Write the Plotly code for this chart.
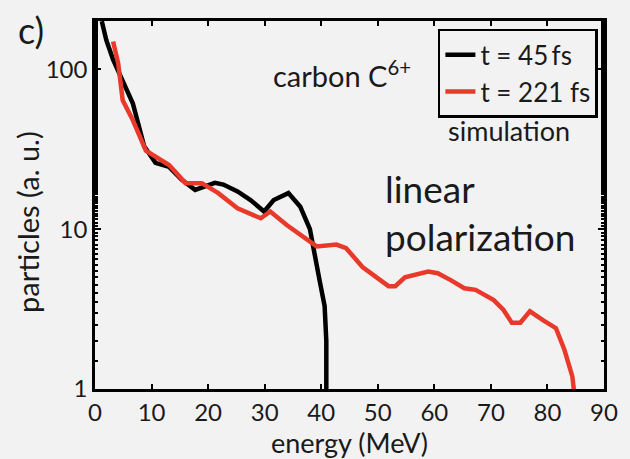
import plotly.graph_objects as go

# t = 45 fs (black)
e45 = [1.2, 2.0, 3.2, 4.9, 6.7, 8.7, 10.7, 13.1, 15.3, 17.7, 19.4, 21.2, 22.7, 25.2, 27.5, 29.9,
       31.6, 34.2, 36.3, 38.0, 39.7, 40.6, 40.9, 40.9]
n45 = [200, 152, 115, 86, 61, 33, 26, 24.5, 20.4, 17.6, 18.5, 19.5, 19.0, 17.2, 15.2, 12.9,
       15.2, 16.8, 13.8, 10.0, 4.8, 3.3, 2.0, 0.97]

# t = 221 fs (red)
e221 = [3.2, 4.1, 4.9, 6.7, 9.0, 11.3, 13.1, 16.0, 18.9, 21.8, 25.2, 29.3, 31.0, 33.9, 35.7,
        39.2, 42.7, 44.4, 47.3, 49.6, 51.9, 53.1, 54.8, 58.9, 60.6, 62.9, 65.3, 67.3, 70.5,
        72.2, 73.7, 75.2, 76.9, 79.2, 81.5, 83.0, 84.4, 84.7]
n221 = [149, 109, 64, 48, 31, 27.7, 25.2, 19.4, 19.4, 16.8, 13.5, 11.7, 12.9, 10.6, 9.5,
        7.8, 8.0, 7.6, 5.8, 5.0, 4.4, 4.4, 5.0, 5.43, 5.3, 4.8, 4.27, 4.17, 3.6,
        3.13, 2.6, 2.6, 3.06, 2.7, 2.4, 1.76, 1.2, 0.97]

xticks = [0, 10, 20, 30, 40, 50, 60, 70, 80, 90]
yticks = [1, 10, 100]
ylabels = ["1", "10", "100"]

FONT = "Lato"
BG = "#f2f2f2"
RED = "#e8392b"
TXT = "#1a1a1a"

fig = go.Figure()
fig.add_trace(go.Scatter(x=e45, y=n45, mode="lines", name="t = 45\u2009fs",
                         line=dict(color="black", width=4.5)))
fig.add_trace(go.Scatter(x=e221, y=n221, mode="lines", name="t = 221 fs",
                         line=dict(color=RED, width=4.5)))

fig.update_layout(
    width=630, height=459,
    margin=dict(l=95, r=18, t=21, b=70),
    paper_bgcolor=BG, plot_bgcolor=BG,
    font=dict(family=FONT, color=TXT, size=22),
    showlegend=True,
    legend=dict(x=0.988, y=0.979, xanchor="right", yanchor="top",
                bgcolor=BG, bordercolor="black", borderwidth=2.5,
                font=dict(size=26, family=FONT, color=TXT),
                itemwidth=30, tracegroupgap=0),
)

fig.update_xaxes(
    range=[0, 90], tickvals=xticks, ticktext=[str(v) for v in xticks],
    ticks="inside", ticklen=5, tickwidth=2, tickcolor="black",
    showline=True, linecolor="black", linewidth=2.5, mirror="ticks",
    showgrid=False, zeroline=False,
    tickfont=dict(size=24, family=FONT, color=TXT),
    title=dict(text="energy (MeV)", font=dict(size=27, family=FONT, color=TXT), standoff=3),
)
fig.update_yaxes(
    type="log", range=[0, 2.302], tickvals=yticks, ticktext=ylabels,
    ticks="inside", ticklen=6, tickwidth=2, tickcolor="black",
    minor=dict(ticks="inside", ticklen=3, tickwidth=1.5, tickcolor="black", showgrid=False),
    showline=True, linecolor="black", linewidth=2.5, mirror="ticks",
    showgrid=False, zeroline=False,
    tickfont=dict(size=24, family=FONT, color=TXT),
)

fig.add_annotation(text="particles (a. u.)", xref="paper", yref="paper",
                   x=(27 - 95) / 517, y=(389.3 - 222) / 368.6, xanchor="center", yanchor="middle",
                   textangle=-90, showarrow=False,
                   font=dict(size=29, family=FONT, color=TXT))
fig.add_annotation(text="c)", xref="paper", yref="paper", x=(15 - 95) / 517, y=(389.3 - 6) / 368.6,
                   xanchor="left", yanchor="top", showarrow=False,
                   font=dict(size=36, family=FONT, color=TXT))
fig.add_annotation(text="carbon C<sup>6+</sup>", xref="paper", yref="paper",
                   x=(346 - 95) / 517, y=(389.3 - 74) / 368.6, xanchor="center", yanchor="middle",
                   showarrow=False, font=dict(size=29, family=FONT, color=TXT))
fig.add_annotation(text="simulation", xref="paper", yref="paper",
                   x=(516 - 95) / 517, y=(389.3 - 130) / 368.6, xanchor="center", yanchor="middle",
                   showarrow=False, font=dict(size=27, family=FONT, color=TXT))
fig.add_annotation(text="linear<br>polarization", xref="paper", yref="paper",
                   x=(388 - 95) / 517, y=(389.3 - 213) / 368.6, xanchor="left", yanchor="middle",
                   align="left", showarrow=False,
                   font=dict(size=37, family=FONT, color=TXT))

fig.write_html("out.html")
